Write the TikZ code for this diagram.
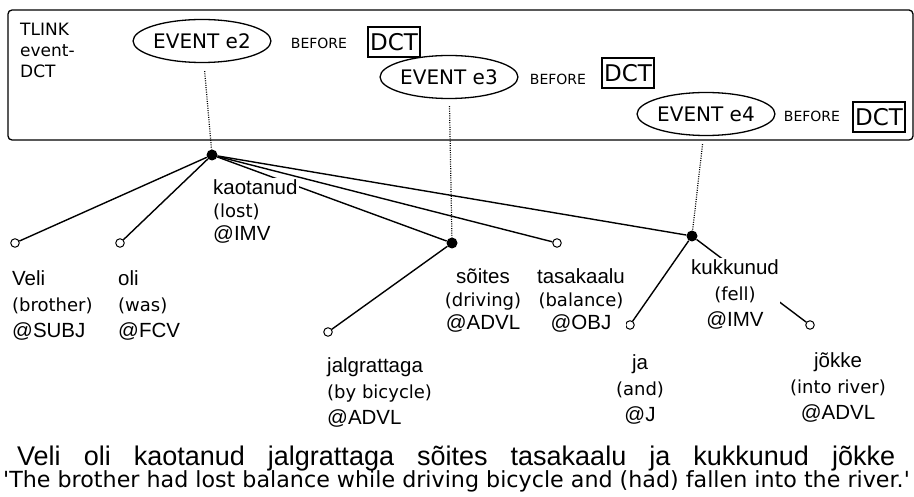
\documentclass[tikz,border=0pt]{standalone}
\usepackage{fontspec}
\setmainfont{Liberation Sans}
\newfontfamily\dejavu{DejaVu Sans}
\usetikzlibrary{shapes.geometric}
\newcommand\wordfont{\fontsize{20.5}{26}\selectfont}
\newcommand\gl[1]{{\dejavu\fontsize{18}{26}\selectfont #1}}
\tikzset{%
  headdot/.style={circle,fill=black,inner sep=0pt,minimum size=11pt},
  leaf/.style={circle,draw,fill=white,line width=1pt,inner sep=0pt,minimum size=8.5pt},
  dep/.style={line width=1.4pt},
  link/.style={line width=1.2pt,dash pattern=on 1pt off 1.3pt},
  word/.style={inner sep=1pt,fill=white,font=\wordfont},
  event/.style={ellipse,draw,line width=1.3pt,minimum width=128pt,minimum height=43pt,
    inner sep=0pt,font=\dejavu\fontsize{20}{24}\selectfont},
  rel/.style={inner sep=0pt,font=\dejavu\fontsize{14}{16}\selectfont},
  dctbox/.style={draw,line width=1.2pt,minimum width=52pt,minimum height=30pt,
    inner sep=0pt,font=\dejavu\fontsize{23}{24}\selectfont}
}
\begin{document}
\begin{tikzpicture}[x=1pt,y=-1pt]
    \useasboundingbox (0,0) rectangle (914,497);
    % TLINK frame
    \draw[line width=1.3pt,rounded corners=4pt] (8,10) rectangle (913,140);
    \node[align=left,anchor=north west,inner sep=0pt,
      font=\dejavu\fontsize{17}{21}\selectfont] (tlink) at (20,23) {TLINK\\event-\\DCT};
    \foreach \n/\ex/\ey/\bx/\dx/\dy in {2/202/41/319/394/42, 3/449/77/558/628/73,
        4/706/114/812/879/117} {
      \node[event] (ev\n) at (\ex,\ey) {EVENT e\n};
      \node[rel] (bf\n) at (\bx,\ey+2) {BEFORE};
      \node[dctbox] (dct\n) at (\dx,\dy) {DCT};
    }
    
    % heads and leaves of the tree
    \node[headdot] (root) at (212,155) {};
    \node[headdot] (hSoites) at (452,243) {};
    \node[headdot] (hKukk) at (692,236) {};
    \node[leaf] (lVeli) at (15,243) {};
    \node[leaf] (lOli) at (120,243) {};
    \node[leaf] (lJalg) at (328,332) {};
    \node[leaf] (lTasa) at (557,243) {};
    \node[leaf] (lJa) at (630,325) {};
    \node[leaf] (lJokke) at (810,325) {};
    
    \draw[link,shorten <=8pt] (ev2) -- (root);
    \draw[link,shorten <=7pt] (ev3) -- (hSoites);
    \draw[link,shorten <=8pt] (ev4) -- (hKukk);
    
    \foreach \d in {lVeli,lOli,hSoites,lTasa,hKukk} { \draw[dep] (root) -- (\d); }
    \draw[dep] (hSoites) -- (lJalg);
    \draw[dep] (hKukk) -- (lJa);
    \draw[dep] (hKukk) -- (lJokke);
    
    % word labels
    \node[word,align=left,anchor=west] (wVeli) at (11,305) {Veli\\\gl{(brother)}\\@SUBJ};
    \node[word,align=left,anchor=west] (wOli) at (117,305) {oli\\\gl{(was)}\\@FCV};
    \node[word,align=left,anchor=west] (wKaot) at (212,211)
      {kaotanud\\[-3pt]\gl{(lost)}\\[-3pt]@IMV};
    \node[word,align=left,anchor=west] (wJalg) at (326,392)
      {jalgrattaga\\\gl{(by bicycle)}\\@ADVL};
    \node[word,align=center] (wSoites) at (483,300)
      {sõites\\[-3pt]\gl{(driving)}\\[-3pt]@ADVL};
    \node[word,align=center] (wTasa) at (581,300)
      {tasakaalu\\[-3pt]\gl{(balance)}\\[-3pt]@OBJ};
    \node[word,align=center] (wKukk) at (735,294) {kukkunud\\\gl{(fell)}\\@IMV};
    \node[word,align=center] (wJa) at (640,389) {ja\\\gl{(and)}\\@J};
    \node[word,align=center] (wJokke) at (838,387) {jõkke\\\gl{(into river)}\\@ADVL};
    
    % sentence and translation
    \node[anchor=base west,inner sep=0pt,font=\fontsize{27}{30}\selectfont] (sent) at (17,465)
      {\makebox[878pt][s]{Veli oli kaotanud jalgrattaga sõites tasakaalu ja kukkunud jõkke}};
    \node[anchor=base west,inner sep=0pt,font=\dejavu\fontsize{22.2}{24}\selectfont] (transl) at (3,487)
      {'The brother had lost balance while driving bicycle and (had) fallen into the river.'};
\end{tikzpicture}
\end{document}
